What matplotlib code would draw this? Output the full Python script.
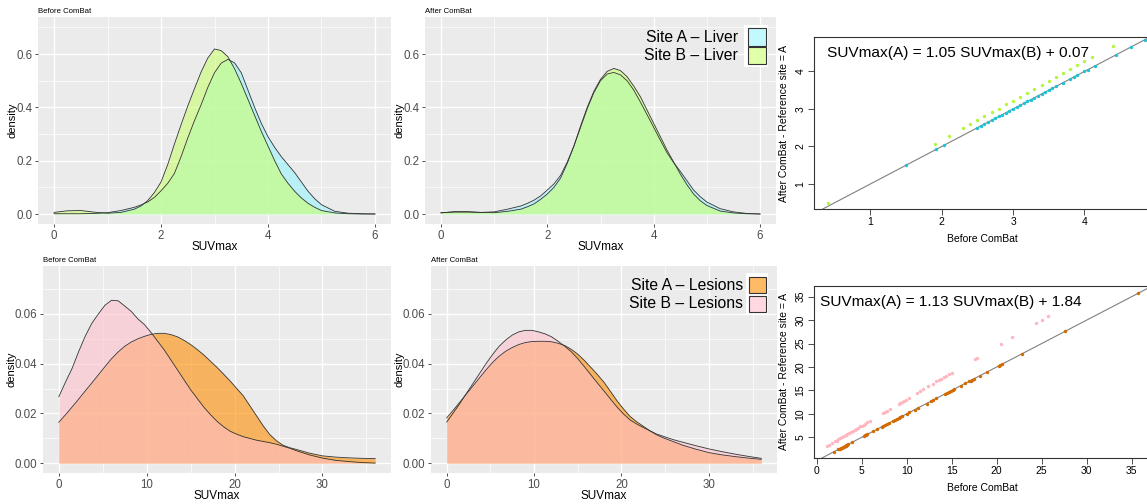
import matplotlib
matplotlib.use("Agg")
import matplotlib.pyplot as plt
from matplotlib.patches import Rectangle
from matplotlib.colors import to_rgba
from matplotlib.ticker import MultipleLocator, FormatStrFormatter

plt.rcParams["font.family"] = ["Liberation Sans", "DejaVu Sans"]

W, H = 1147, 504

# ---------------------------------------------------------------- density data
liver_x = [0.0, 0.25, 0.5, 0.75, 1.0, 1.25,
           1.5, 1.625, 1.75, 1.875, 2.0, 2.125, 2.25, 2.375, 2.5, 2.625, 2.75, 2.875,
           3.0, 3.125, 3.25, 3.375, 3.5, 3.625, 3.75, 3.875, 4.0, 4.125, 4.25, 4.375,
           4.5, 4.625, 4.75, 4.875, 5.0,
           5.25, 5.5, 5.75, 6.0]
liver_before_a = [0.001, 0.001, 0.001, 0.002, 0.005, 0.013,
                  0.025, 0.034, 0.045, 0.062, 0.087, 0.115, 0.152, 0.215, 0.285, 0.35,
                  0.41, 0.475, 0.53, 0.566, 0.58, 0.567, 0.53, 0.465, 0.40, 0.34, 0.29,
                  0.25, 0.215, 0.185, 0.155, 0.12, 0.085, 0.057, 0.035,
                  0.01, 0.003, 0.001, 0.0]
liver_before_b = [0.006, 0.012, 0.013, 0.007, 0.003, 0.006,
                  0.018, 0.03, 0.05, 0.08, 0.12, 0.185, 0.262, 0.335, 0.405, 0.47,
                  0.533, 0.585, 0.619, 0.613, 0.59, 0.545, 0.49, 0.43, 0.37, 0.31,
                  0.255, 0.2, 0.15, 0.115, 0.085, 0.06, 0.04, 0.025, 0.013,
                  0.004, 0.001, 0.0, 0.0]
liver_after_a = [0.005, 0.007, 0.007, 0.006, 0.008, 0.018,
                 0.03, 0.04, 0.052, 0.068, 0.09, 0.113, 0.145, 0.195, 0.255, 0.325,
                 0.395, 0.455, 0.50, 0.525, 0.531, 0.522, 0.50, 0.465, 0.42, 0.373,
                 0.325, 0.277, 0.23, 0.193, 0.16, 0.125, 0.09, 0.065, 0.045,
                 0.02, 0.008, 0.002, 0.0]
liver_after_b = [0.004, 0.009, 0.009, 0.006, 0.005, 0.01,
                 0.018, 0.027, 0.038, 0.055, 0.075, 0.10, 0.135, 0.19, 0.255, 0.33,
                 0.40, 0.46, 0.505, 0.535, 0.546, 0.538, 0.515, 0.48, 0.44, 0.39,
                 0.34, 0.29, 0.24, 0.195, 0.15, 0.11, 0.075, 0.05, 0.032,
                 0.011, 0.004, 0.001, 0.0]

lesion_x = [0, 0.75, 1.5, 2.25, 3, 3.75, 4.5, 5.25, 6, 6.75, 7.5, 8.25, 9, 9.75, 10.5,
            11.25, 12, 12.75, 13.5, 14.25, 15, 15.75, 16.5, 17.25, 18, 18.75, 19.5,
            20.25, 21, 21.75, 22.5, 23.25, 24, 24.75, 25.5, 26.25, 27,
            28.5, 30, 31.5, 33, 34.5, 36]
lesion_before_a = [0.0164, 0.0194, 0.0225, 0.0257, 0.029, 0.0322, 0.0355, 0.0388, 0.042,
                   0.0447, 0.047, 0.0487, 0.050, 0.051, 0.0518, 0.0522, 0.0522, 0.0517,
                   0.0508, 0.0494, 0.0477, 0.0457, 0.0435, 0.041, 0.0385, 0.0358, 0.033,
                   0.030, 0.027, 0.023, 0.019, 0.015, 0.0115, 0.009, 0.0072, 0.0062,
                   0.0055,
                   0.004, 0.0029, 0.0024, 0.0021, 0.0019, 0.0018]
lesion_before_b = [0.0267, 0.0325, 0.038, 0.0448, 0.051, 0.0562, 0.060, 0.0635, 0.0655,
                   0.0653, 0.0632, 0.061, 0.058, 0.0557, 0.0525, 0.049, 0.0455, 0.0415,
                   0.0375, 0.0335, 0.0295, 0.026, 0.0225, 0.0195, 0.0168, 0.0146, 0.0128,
                   0.0116, 0.0106, 0.0099, 0.0092, 0.0087, 0.0082, 0.0076, 0.0068,
                   0.006, 0.005,
                   0.0033, 0.002, 0.0011, 0.0006, 0.0002, 0.0]
lesion_after_a = [0.0182, 0.0213, 0.0245, 0.0278, 0.031, 0.0343, 0.0375, 0.0405, 0.043,
                  0.045, 0.0465, 0.0477, 0.0485, 0.0489, 0.049, 0.049, 0.0488, 0.0482,
                  0.0473, 0.0458, 0.0438, 0.0413, 0.0385, 0.0356, 0.0325, 0.0288, 0.025,
                  0.0217, 0.0187, 0.0166, 0.0148, 0.013, 0.0114, 0.0102, 0.0092, 0.0082,
                  0.0072,
                  0.0056, 0.0042, 0.0033, 0.0026, 0.002, 0.0015]
lesion_after_b = [0.0165, 0.0202, 0.024, 0.028, 0.032, 0.036, 0.040, 0.0437, 0.047,
                  0.0495, 0.0515, 0.0528, 0.0534, 0.0534, 0.0528, 0.052, 0.0508, 0.049,
                  0.047, 0.0448, 0.042, 0.0388, 0.0355, 0.0322, 0.029, 0.0257, 0.0225,
                  0.0197, 0.0173, 0.0157, 0.0143, 0.013, 0.0117, 0.0108, 0.0099, 0.0091,
                  0.0084,
                  0.007, 0.0057, 0.0046, 0.0036, 0.0027, 0.0019]

# ---------------------------------------------------------------- before vs after (site A = reference, sits on y = x)
liver_a_vals = [1.5, 1.92, 2.03, 2.5, 2.55, 2.6, 2.65, 2.7, 2.75, 2.8, 2.85, 2.9, 2.95,
                3.0, 3.05, 3.1, 3.15, 3.2, 3.25, 3.3, 3.35, 3.4, 3.45, 3.5, 3.55, 3.6,
                3.7, 3.8, 3.85, 3.9, 4.0, 4.05, 4.15, 4.45, 4.65, 4.85]
liver_b_before = [0.4, 1.9, 2.1, 2.3, 2.4, 2.5, 2.6, 2.7, 2.8, 2.9, 3.0, 3.1, 3.2, 3.3,
                  3.4, 3.5, 3.6, 3.7, 3.8, 3.9, 4.0, 4.1, 4.4]
liver_b_after = [0.49, 2.07, 2.28, 2.49, 2.59, 2.70, 2.80, 2.91, 3.01, 3.12, 3.22, 3.33,
                 3.43, 3.54, 3.64, 3.75, 3.85, 3.96, 4.06, 4.17, 4.27, 4.38, 4.69]

lesion_a_vals = [1.96, 2.4, 2.5, 2.6, 2.7, 2.8, 2.9, 3.0, 3.1, 3.2, 3.3, 3.4, 3.5, 3.9,
                 5.3, 5.4, 5.5, 5.6, 6.3, 6.7, 7.2, 7.4, 7.6, 7.8, 8.0, 8.5, 8.7, 8.9,
                 9.1, 9.3, 9.5, 10.0, 10.3, 10.9, 11.3, 12.2, 12.7, 12.9, 13.3, 14.3,
                 14.5, 14.7, 14.9, 15.1, 15.3, 16.0, 16.5, 16.9, 17.1, 17.3, 17.5, 18.1,
                 18.9, 20.2, 20.4, 20.6, 22.8, 27.6, 35.7]
lesion_b_before = [1.1, 1.4, 1.7, 2.0, 2.2, 2.4, 2.6, 2.8, 3.0, 3.2, 3.4, 3.6, 3.8, 4.0,
                   4.2, 4.4, 4.6, 4.8, 5.0, 5.2, 5.4, 5.6, 5.9, 7.4, 7.6, 7.8, 8.1, 9.1,
                   9.3, 9.5, 9.7, 9.9, 10.2, 11.1, 11.5, 11.85, 12.4, 12.9, 13.3, 13.6,
                   13.8, 14.1, 14.4, 14.7, 15.0, 17.6, 17.8, 20.5, 21.7, 24.4, 25.0, 25.7]
lesion_b_after = [3.1, 3.4, 3.8, 4.1, 4.3, 4.6, 4.8, 5.0, 5.2, 5.5, 5.7, 5.9, 6.1, 6.4,
                  6.6, 6.8, 7.0, 7.3, 7.5, 7.7, 7.9, 8.2, 8.5, 10.2, 10.4, 10.7, 11.0,
                  12.1, 12.4, 12.6, 12.8, 13.0, 13.4, 14.4, 14.8, 15.2, 15.9, 16.4, 16.9,
                  17.2, 17.4, 17.8, 18.1, 18.5, 18.8, 21.7, 22.0, 25.0, 26.4, 29.4, 30.1,
                  30.9]

LIVER_A, LIVER_B = "#98f5ff", "#caff70"
LES_A, LES_B = "#ff8c00", "#ffc0cb"
ALPHA = 0.6


def box(l, t, r, b):
    """pixel box (top-left origin) -> figure fraction rect"""
    return [l / W, 1 - b / H, (r - l) / W, (b - t) / H]


fig = plt.figure(figsize=(W / 100, H / 100), dpi=100)


def density_panel(rect, title, x, ya, yb, ca, cb, xlim, ylim, xmaj, ymaj, yfmt):
    ax = fig.add_axes(box(*rect))
    ax.set_facecolor("#EBEBEB")
    for s in ax.spines.values():
        s.set_visible(False)
    ax.fill_between(x, ya, color=ca, alpha=ALPHA, lw=0)
    ax.plot(x, ya, color="#333333", lw=0.6)
    ax.fill_between(x, yb, color=cb, alpha=ALPHA, lw=0)
    ax.plot(x, yb, color="#333333", lw=0.6)
    ax.set_xlim(*xlim); ax.set_ylim(*ylim)
    ax.xaxis.set_major_locator(MultipleLocator(xmaj))
    ax.xaxis.set_minor_locator(MultipleLocator(xmaj / 2))
    ax.yaxis.set_major_locator(MultipleLocator(ymaj))
    ax.yaxis.set_minor_locator(MultipleLocator(ymaj / 2))
    ax.yaxis.set_major_formatter(FormatStrFormatter(yfmt))
    ax.set_axisbelow(True)
    ax.grid(which="major", color="white", lw=1.0)
    ax.grid(which="minor", color="white", lw=0.5)
    ax.tick_params(which="minor", length=0)
    ax.tick_params(which="major", length=2.5, width=0.6, color="#333333",
                   labelsize=8.3, labelcolor="#4D4D4D", pad=1.5)
    ax.set_xlabel("SUVmax", fontsize=8.5, labelpad=-0.5)
    ax.set_ylabel("density", fontsize=8, labelpad=-1)
    ax.set_title(title, loc="left", fontsize=5.6, pad=3)
    return ax


def qq_panel(rect, xlim, ylim, a_vals, b_before, b_after, ca, cb, xt, yt, eq, eq_x):
    ax = fig.add_axes(box(*rect))
    ax.set_xlim(*xlim); ax.set_ylim(*ylim)
    ax.axline((0, 0), slope=1, color="#808080", lw=0.8, zorder=1)
    ax.scatter(b_before, b_after, s=6, color=cb, lw=0, zorder=2)
    ax.scatter(a_vals, a_vals, s=6, color=ca, lw=0, zorder=3)
    ax.set_xticks(xt); ax.set_yticks(yt)
    ax.tick_params(length=4, width=0.6, color="#333333", labelsize=7.5, pad=2)
    plt.setp(ax.get_yticklabels(), rotation=90, va="center")
    for s in ax.spines.values():
        s.set_color("#333333"); s.set_linewidth(0.8)
    ax.set_xlabel("Before ComBat", fontsize=7.5, labelpad=5)
    ax.set_ylabel("After ComBat - Reference site = A", fontsize=7.5, labelpad=5)
    ax.text(eq_x, 0.907, eq, transform=ax.transAxes, fontsize=11.1, va="center")
    return ax


density_panel((38, 17, 391, 224), "Before ComBat", liver_x, liver_before_a, liver_before_b,
              LIVER_A, LIVER_B, (-0.3, 6.3), (-0.0375, 0.739), 2, 0.2, "%.1f")
density_panel((425, 17, 776, 224), "After ComBat", liver_x, liver_after_a, liver_after_b,
              LIVER_A, LIVER_B, (-0.3, 6.3), (-0.0375, 0.739), 2, 0.2, "%.1f")
density_panel((43, 266, 391, 473), "Before ComBat", lesion_x, lesion_before_a, lesion_before_b,
              LES_A, LES_B, (-1.8, 37.8), (-0.004, 0.0793), 10, 0.02, "%.2f")
density_panel((431, 266, 777, 473), "After ComBat", lesion_x, lesion_after_a, lesion_after_b,
              LES_A, LES_B, (-1.8, 37.8), (-0.004, 0.0793), 10, 0.02, "%.2f")

qq_panel((814, 37, 1150, 209), (0.21, 4.92), (0.333, 4.92), liver_a_vals,
         liver_b_before, liver_b_after, "#1fc2d4", "#b5f542",
         [1, 2, 3, 4], [1, 2, 3, 4], "SUVmax(A) = 1.05 SUVmax(B) + 0.07", 0.039)
qq_panel((814, 286, 1150, 458), (-0.3, 37.03), (0.576, 37.27), lesion_a_vals,
         lesion_b_before, lesion_b_after, "#d26a00", "#ffb6c1",
         list(range(0, 36, 5)), list(range(5, 36, 5)),
         "SUVmax(A) = 1.13 SUVmax(B) + 1.84", 0.018)

# ---------------------------------------------------------------- legends (pixel overlay)
ov = fig.add_axes([0, 0, 1, 1], zorder=10)
ov.set_xlim(0, W); ov.set_ylim(H, 0); ov.axis("off"); ov.patch.set_alpha(0)


def legend(entries, text_right, kx0, kx1, rows, bg):
    ov.add_patch(Rectangle((bg[0], bg[1]), bg[2] - bg[0], bg[3] - bg[1],
                           facecolor="white", edgecolor="none"))
    for (label, color), (y0, y1) in zip(entries, rows):
        ov.add_patch(Rectangle((kx0, y0), kx1 - kx0, y1 - y0,
                               facecolor=to_rgba(color, ALPHA), edgecolor="#333333", lw=0.8))
        ov.text(text_right, (y0 + y1) / 2, label, ha="right", va="center", fontsize=11.3)


legend([("Site A – Liver", LIVER_A), ("Site B – Liver", LIVER_B)], 738, 748, 766,
       [(28, 46), (47, 64)], (744, 25, 768, 67))
legend([("Site A – Lesions", LES_A), ("Site B – Lesions", LES_B)], 743, 749, 766,
       [(277, 293), (296, 312)], (746, 273, 768, 314))

fig.savefig("out.png", dpi=100)
